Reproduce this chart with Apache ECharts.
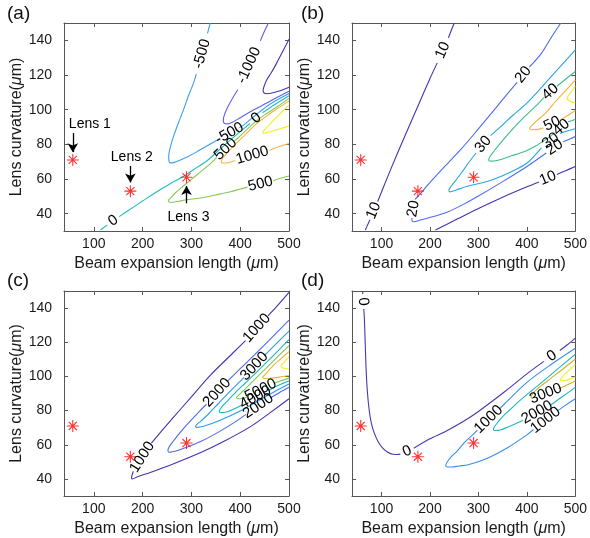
<!DOCTYPE html>
<html><head><meta charset="utf-8">
<script src="https://cdn.jsdelivr.net/npm/echarts@6/dist/echarts.min.js"></script>
<style>html,body{margin:0;padding:0;background:#fff}#c{width:590px;height:538px}</style>
</head><body><div id="c"></div>
<script>
// ---------- data ----------
const xTicks = [100, 200, 300, 400, 500];
const yTicks = [40, 60, 80, 100, 120, 140];
const lensNames = ['Lens 1', 'Lens 2', 'Lens 3'];
const lensX = [57, 175, 290];
const lensY = [71, 53, 61];
const lensTextX = [92, 178, 294];
const lensTextY = [91.4, 72.5, 38];
const lensArrowFrom = [[57, 86.5], [175, 67.5], [290, 46]];
const lensArrowTo = [[57, 75.5], [175, 58], [290, 56]];

// panel (a)
const levelsA = [-1500, -1000, -500, 0, 500, 1000, 1500];
const a_m1500 = [[[500,140.6],[487,133.5],[475,127],[463,121],[455,117.5],[449,113.5],[447,111],[449,109.6],[455,109.2],[465,109.6],[478,110.6],[490,111.8],[500,113]]];
const a_m1000 = [[[457.7,150],[449,144.8],[441.3,139.7]],[[395,111.5],[383.2,106],[372.3,100.3],[366.5,96],[365.5,93.5],[368,92],[375,91.8],[384,92.8],[398,95],[411,97.2],[430,100.2],[452,103.5],[475,107],[500,110.6]]];
const a_m500 = [[[338.6,150],[333,144]],[[310,120.5],[304.7,115.6],[294,108],[284.3,100.3],[273,92],[263.8,85],[257,78.5],[253.6,73.4],[254,70.5],[257,69.3],[265,69.6],[278,71],[292,72.8],[310,75.5],[330,78.8],[358,83.2]],[[398,89.5],[410,91.8],[433,97.2],[460,103],[500,109.3]]];
const a_0 = [[[113.7,30.6],[122,32.3],[128,33.5]],[[152,38.3],[170,41.7],[200,47.3],[230,52.8],[260,57.8],[289,62.5],[310,66.4],[332,70.5],[359,77.3],[386,84],[405,88.5],[420,92]],[[446,98.2],[470,102.8],[500,108]]];
const a_500 = [[[500,106.5],[475,101.5],[450,97],[433,93.5],[410,87.5],[395,83.5],[388,82]],[[352,72.5],[340,69.2],[318,64],[300,59.8],[283,55.8],[268,52.2],[258,49.3],[253,47.5],[255,46.6],[262,46.6],[275,47.2],[290,48],[318,49],[350,50.8],[380,52.6],[400,54.2],[415,55.3]],[[468,59],[481,60.3],[500,61.7]]];
const a_1000 = [[[500,105],[480,101.3],[460,97.5],[433,91.8],[410,85.5],[390,80],[376,76],[367,73],[362,71],[361,69.6],[365,69.2],[375,69.4],[390,70.7]],[[460,76.6],[480,78.8],[500,80.5]]];
const a_1500 = [[[500,102.5],[490,100],[478,96.5],[465,93],[455,90],[449,88],[446.5,87],[448,86.3],[455,86.8],[470,88],[485,89.3],[500,90.5]]];

// panel (b)
const levelsB = [10, 20, 30, 40, 50, 60];
const b_10a = [[[66.5,30.6],[72,34],[76,36.5]],[[92,47],[110,59.5],[130,73],[150,86],[175,102],[200,118],[215,127]],[[238,141.5],[250,150]]];
const b_10b = [[[211,30.6],[250,36],[300,43],[350,49.5],[400,55.5],[425,58.3]],[[462,62.6],[480,64.8],[500,67.2]]];
const b_20 = [[[470,150],[450,141.5],[430,132.5],[405,124.5]],[[380,115.8],[358,108.5],[330,99],[299,88.6],[265,77.5],[231,67.4],[200,58],[177,50.5],[169,48.2]],[[162.5,37.5],[163,36],[167,35.3],[180,36.3],[211,38.6],[235,40.8],[270,45.5],[299,50],[350,58.5],[401,67.4],[440,75]],[[475,81.5],[490,83.2],[500,84.5]]];
const b_30 = [[[500,134.5],[450,119],[401,104],[370,96.5],[347,90.5],[325,85]],[[295,75],[280,69.5],[265,63.6],[252,58.8],[243,55.5],[239,53.5],[241,52.6],[250,53.2],[260,54.3],[279,56],[310,58],[333,60],[370,64.5],[401,69.4],[430,78]],[[468,86.2],[485,87.8],[500,89]]];
const b_40 = [[[500,122],[479,117.4],[462,113.5]],[[435,107],[418,102],[390,94.5],[364,86.7],[345,80.5],[332,76],[324,73],[321,71],[325,70.3],[340,70.8],[370,73.5],[400,76.5],[418,79],[440,83],[457,86.5]],[[485,93],[492,93.6],[500,94.5]]];
const b_50 = [[[500,117],[480,111],[460,105],[440,98.5],[420,93.5],[410,90.8],[405.5,89.2],[408,88.4],[420,88.5],[434,89.5]],[[470,94.2],[485,96.8],[500,99.5]]];
const b_60 = [[[500,113.5],[492,110.5],[486,108.3],[483,106.8],[485,105.5],[492,104.5],[500,104]]];

// panel (c)
const levelsC = [1000, 2000, 3000, 4000, 5000, 6000, 7000];
const c_1000 = [[[500,149.2],[475,141],[457,135.5]],[[411,121],[386,114],[340,101],[300,88],[260,75],[218,61]],[[181,44.5],[178.5,42.2],[177.3,40.8],[178.5,40],[190,41.3],[215.6,43.8],[260,48.5],[318,55.3],[370,62.5],[421,70.6],[460,78.5],[500,86.9]]];
const c_2000 = [[[500,133],[450,118.5],[400,104.5],[374,97.2]],[[331,83.7],[318,80],[290,71.5],[275,66.5],[264,62.5],[256,59.5],[252.5,57.5],[252,56.3],[255,55.6],[270,56.5],[290,58.5],[320,62],[350,66.5],[385,72.5],[412,77.8]],[[462,87.5],[480,90.5],[500,93.6]]];
const c_3000 = [[[500,126.5],[475,119.5],[450,112.3]],[[408,99.5],[380,91.5],[355,84],[335,78],[320,74],[311,71.8],[308.5,70.8],[311,70.2],[325,70.8],[360,74.5],[400,79.8],[440,86.2],[470,91],[500,95.5]]];
const c_4000 = [[[500,121.5],[460,110],[430,101.5],[410,96],[390,90.5],[375,86],[365,83],[359,80.8],[357,79.5],[360,78.8],[375,79.5],[395,82],[405,83.6]],[[458,91.8],[470,93.7],[500,97.5]]];
const c_5000 = [[[500,118],[475,111],[450,104],[420,95.5],[405,91.2],[396,88.8],[392.5,87.6],[395,86.9],[405,87.2],[414,88]],[[470,96],[485,97.6],[500,99]]];
const c_6000 = [[[500,114.5],[485,110.8],[470,107],[458,103.3],[450,100.8],[446,99.5],[449,98.8],[460,98.9],[480,99.6],[500,100.5]]];
const c_7000 = [[[500,111.5],[492,109],[486,107],[483.5,106],[486,105.2],[493,104.6],[500,104.2]]];

// panel (d)
const levelsD = [0, 1000, 2000, 3000, 4000];
const d_0 = [[[61,150],[61.2,148.2]],[[63.3,139.5],[64.5,134],[66,122],[68,105],[70.5,92],[74.5,80.2],[79,72.5],[85,66.8],[93,61.8],[102,58.2],[113,55.6],[124,54.4],[133,54.3],[139,54.5]],[[166.5,58],[200,63.5],[230,67.5],[265,73],[300,79.5],[354,91],[400,101.5],[435,108.8]],[[468,115.2],[485,118.8],[500,122.4]]];
const d_1000 = [[[500,116.5],[450,107],[400,96.5],[354,84],[344,81.2]],[[298,68.5],[285,65],[270,61],[255,56],[245,53.3],[237,50.5],[233,48.5],[232.5,47.6],[236,47],[245,47],[260,47.6],[279,48.3],[320,52.3],[360,58.2],[400,65.8],[414,68.9]],[[463,79.8],[480,83.2],[500,86.9]]];
const d_2000 = [[[500,113],[460,103.5],[420,94],[390,87],[365,80.5],[350,76.5],[339,72.8],[333,70.5],[331,69],[334,68.3],[345,68.6],[360,70.3],[380,72.8],[392,74.4]],[[450,83.4],[460,85.5],[480,89.5],[500,93.6]]];
const d_3000 = [[[500,110.2],[475,104.5],[450,99],[430,94.6],[418,91.8],[411,89.5],[408.5,88],[411,87.2],[413,87]],[[465,92.8],[480,94.6],[500,97.3]]];
const d_4000 = [[[500,107],[490,104.3],[480,101.8],[472,99.5],[469.5,98.3],[472,97.5],[480,97.6],[490,98.6],[500,99.8]]];

// ---------- styling ----------
const FONT = '"Liberation Sans", Arial, Helvetica, sans-serif';
const colorsA = ['#4433b0', '#5862f0', '#3a9ef2', '#22bcc0', '#86c856', '#f7b23e', '#f2ee18'];
const colorsB = ['#4433b0', '#4d6bf2', '#28a6e4', '#3dbd8c', '#f2b43c', '#f2ee18'];
const colorsC = ['#4433b0', '#4d6bf2', '#2a9ee8', '#1ab8b8', '#80c45c', '#f2b43c', '#f2ee18'];
const colorsD = ['#4638b2', '#3a8ef0', '#1fb8b8', '#d0b030', '#f2ee18'];

const panels = [
  {tag: '(a)', levels: levelsA, colors: colorsA, curves: [a_m1500, a_m1000, a_m500, a_0, a_500, a_1000, a_1500]},
  {tag: '(b)', levels: levelsB, colors: colorsB, curves: [b_10a, b_20, b_30, b_40, b_50, b_60, b_10b], lvlIdx: [0,1,2,3,4,5,0]},
  {tag: '(c)', levels: levelsC, colors: colorsC, curves: [c_1000, c_2000, c_3000, c_4000, c_5000, c_6000, c_7000]},
  {tag: '(d)', levels: levelsD, colors: colorsD, curves: [d_0, d_1000, d_2000, d_3000, d_4000]}
];
const grids = [
  {left: 64, top: 23, width: 225, height: 208},
  {left: 352, top: 23, width: 226, height: 208},
  {left: 64, top: 291, width: 225, height: 207},
  {left: 352, top: 291, width: 226, height: 207}
];
const tagPos = [[7, 4], [301, 4], [7, 271], [301, 271]];
const AX = '#555';
const TXT = '#000';
const STAR = 'path://M9.1,0H10.9V20H9.1Z M0,9.1H20V10.9H0Z M2.6,3.9L3.9,2.6L17.4,16.1L16.1,17.4Z M16.1,2.6L17.4,3.9L3.9,17.4L2.6,16.1Z';

const xAxes = [], yAxes = [];
grids.forEach((g, i) => {
  xAxes.push({
    type: 'value', gridIndex: i, min: 39, max: 500, position: 'bottom',
    name: 'Beam expansion length ({i|μ}m)', nameLocation: 'middle', nameGap: 25,
    nameTextStyle: {fontSize: 16, color: '#1a1a1a', fontFamily: FONT, rich: {i: {fontStyle: 'italic', fontSize: 16, fontFamily: FONT, color: '#1a1a1a'}}},
    axisLine: {show: true, onZero: false, lineStyle: {color: AX, width: 1}},
    axisTick: {show: true, inside: true, length: 4, customValues: xTicks, lineStyle: {color: AX}},
    axisLabel: {show: true, customValues: xTicks, fontSize: 14, color: '#1a1a1a', fontFamily: FONT, margin: 6},
    splitLine: {show: false}
  });
  xAxes.push({
    type: 'value', gridIndex: i, min: 39, max: 500, position: 'top',
    axisLine: {show: true, onZero: false, lineStyle: {color: AX, width: 1}},
    axisTick: {show: true, inside: true, length: 4, customValues: xTicks, lineStyle: {color: AX}},
    axisLabel: {show: false}, splitLine: {show: false}
  });
  yAxes.push({
    type: 'value', gridIndex: i, min: 30, max: 150, position: 'left',
    name: 'Lens curvature({i|μ}m)', nameLocation: 'middle', nameGap: 33,
    nameTextStyle: {fontSize: 16, color: '#1a1a1a', fontFamily: FONT, rich: {i: {fontStyle: 'italic', fontSize: 16, fontFamily: FONT, color: '#1a1a1a'}}},
    axisLine: {show: true, onZero: false, lineStyle: {color: AX, width: 1}},
    axisTick: {show: true, inside: true, length: 4, customValues: yTicks, lineStyle: {color: AX}},
    axisLabel: {show: true, customValues: yTicks, fontSize: 14, color: '#1a1a1a', fontFamily: FONT, margin: 12},
    splitLine: {show: false}
  });
  yAxes.push({
    type: 'value', gridIndex: i, min: 30, max: 150, position: 'right',
    axisLine: {show: true, onZero: false, lineStyle: {color: AX, width: 1}},
    axisTick: {show: true, inside: true, length: 4, customValues: yTicks, lineStyle: {color: AX}},
    axisLabel: {show: false}, splitLine: {show: false}
  });
});

const series = [];
panels.forEach((p, g) => {
  p.curves.forEach((segs, k) => {
    const li = p.lvlIdx ? p.lvlIdx[k] : k;
    segs.forEach(seg => {
      series.push({
        type: 'line', xAxisIndex: 2 * g, yAxisIndex: 2 * g, data: seg,
        showSymbol: false, symbol: 'none', smooth: 0.3, silent: true, z: 2,
        lineStyle: {color: p.colors[li], width: 1.1}
      });
    });
  });
  const star = {
    type: 'scatter', xAxisIndex: 2 * g, yAxisIndex: 2 * g, z: 5, silent: true,
    data: lensX.map((x, i) => [x, lensY[i]]),
    symbol: STAR, symbolSize: 12, itemStyle: {color: '#ff0000'}
  };
  if (g === 0) {
    star.markLine = {
      silent: true, symbol: ['none', 'arrow'], symbolSize: [8, 9],
      lineStyle: {color: '#000', width: 1.3, type: 'solid', opacity: 1}, label: {show: false},
      data: lensArrowFrom.map((f, i) => [{coord: f}, {coord: lensArrowTo[i]}])
    };
  }
  series.push(star);
});

const labelStyle = {show: true, position: 'inside', color: TXT, fontFamily: FONT,
  textBorderWidth: 0, textBorderColor: 'transparent', opacity: 1};

series.push({
  type: 'scatter', xAxisIndex: 0, yAxisIndex: 0, silent: true, z: 6,
  symbolSize: 1, itemStyle: {color: 'rgba(255,255,255,0)'},
  data: lensNames.map((n, i) => ({value: [lensTextX[i], lensTextY[i]], name: n})),
  label: Object.assign({}, labelStyle, {formatter: '{b}', fontSize: 14})
});

const chart = echarts.init(document.getElementById('c'), null, {renderer: 'canvas'});
chart.setOption({
  animation: false,
  backgroundColor: '#fff',
  title: panels.map((p, i) => ({text: p.tag, left: tagPos[i][0], top: tagPos[i][1], padding: 0,
    textStyle: {fontSize: 19, fontWeight: 'normal', color: '#111', fontFamily: FONT}})),
  grid: grids,
  xAxis: xAxes,
  yAxis: yAxes,
  series: series
});

// contour labels placed in the gaps of each contour, rotated along the line
panels.forEach((p, g) => {
  const data = [];
  p.curves.forEach((segs, k) => {
    const li = p.lvlIdx ? p.lvlIdx[k] : k;
    for (let i = 0; i < segs.length - 1; i++) {
      const A = segs[i][segs[i].length - 1], B = segs[i + 1][0];
      const pa = chart.convertToPixel({xAxisIndex: 2 * g, yAxisIndex: 2 * g}, A);
      const pb = chart.convertToPixel({xAxisIndex: 2 * g, yAxisIndex: 2 * g}, B);
      let ang = Math.atan2(-(pb[1] - pa[1]), pb[0] - pa[0]) * 180 / Math.PI;
      if (ang > 90) ang -= 180;
      if (ang < -90) ang += 180;
      data.push({value: [(A[0] + B[0]) / 2, (A[1] + B[1]) / 2],
        label: {rotate: ang, formatter: String(p.levels[li])}});
    }
  });
  series.push({
    type: 'scatter', xAxisIndex: 2 * g, yAxisIndex: 2 * g, silent: true, z: 7,
    symbolSize: 1, itemStyle: {color: 'rgba(255,255,255,0)'}, data: data,
    label: Object.assign({}, labelStyle, {fontSize: 15})
  });
});
chart.setOption({series: series});
</script></body></html>
